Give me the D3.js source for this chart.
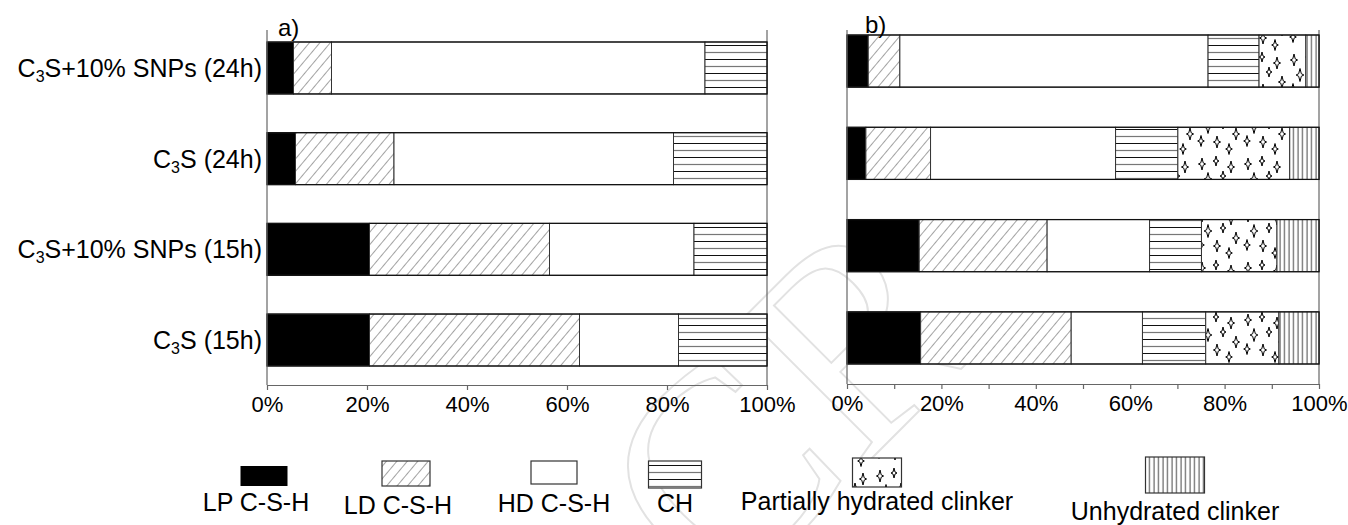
<!DOCTYPE html>
<html>
<head>
<meta charset="utf-8">
<script src="https://cdn.jsdelivr.net/npm/d3@7"></script>
<style>
  body { margin: 0; background: #fff; }
  text { font-family: "Liberation Sans", Arial, sans-serif; }
</style>
</head>
<body>
<svg id="chart" width="1348" height="525"></svg>
<script>
// categories, top to bottom
const categories = ["C3S+10% SNPs (24h)", "C3S (24h)", "C3S+10% SNPs (15h)", "C3S (15h)"];

// panel a) values in %
const aLP = [5.3, 5.7, 20.5, 20.5];
const aLD = [7.6, 19.7, 36.0, 42.0];
const aHD = [74.7, 55.9, 28.9, 19.8];
const aCH = [12.4, 18.7, 14.6, 17.7];

// panel b) values in %
const bLP = [4.5, 4.0, 15.3, 15.6];
const bLD = [6.7, 13.7, 27.1, 31.9];
const bHD = [65.3, 39.2, 21.7, 15.1];
const bCH = [10.8, 13.2, 11.0, 13.4];
const bPHC = [9.9, 23.7, 16.0, 15.5];
const bUC = [2.8, 6.2, 8.9, 8.5];

const xTicksA = [0, 20, 40, 60, 80, 100];
const xTicksB = [0, 10, 20, 30, 40, 50, 60, 70, 80, 90, 100];

const legendNames = ["LP C-S-H", "LD C-S-H", "HD C-S-H", "CH", "Partially hydrated clinker", "Unhydrated clinker"];

const svg = d3.select("#chart");
const defs = svg.append("defs");

// ---- fill patterns ----
defs.append("pattern").attr("id", "p-ld")
    .attr("patternUnits", "userSpaceOnUse")
    .attr("width", 8).attr("height", 8)
    .attr("patternTransform", "rotate(40)")
  .call(p => {
      p.append("rect").attr("width", 8).attr("height", 8).attr("fill", "#fff");
      p.append("line").attr("x1", 0).attr("y1", 0).attr("x2", 0).attr("y2", 8)
        .attr("stroke", "#333").attr("stroke-width", 0.9);
  });

defs.append("pattern").attr("id", "p-ch")
    .attr("patternUnits", "userSpaceOnUse")
    .attr("width", 10).attr("height", 14)
  .call(p => {
      p.append("rect").attr("width", 10).attr("height", 14).attr("fill", "#fff");
      p.append("line").attr("x1", 0).attr("x2", 10).attr("y1", 3.5).attr("y2", 3.5)
        .attr("stroke", "#111").attr("stroke-width", 1);
      p.append("line").attr("x1", 0).attr("x2", 10).attr("y1", 10.5).attr("y2", 10.5)
        .attr("stroke", "#777").attr("stroke-width", 1.2);
  });

defs.append("pattern").attr("id", "p-uc")
    .attr("patternUnits", "userSpaceOnUse")
    .attr("width", 4.5).attr("height", 10)
  .call(p => {
      p.append("rect").attr("width", 4.5).attr("height", 10).attr("fill", "#fff");
      p.append("line").attr("x1", 2).attr("x2", 2).attr("y1", 0).attr("y2", 10)
        .attr("stroke", "#444").attr("stroke-width", 1);
  });

// little four-point sparkles
function star(cx, cy, s) {
    const ry = 5 * s, rx = 3 * s, ri = 1 * s;
    return `M${cx},${cy - ry}L${cx + ri},${cy - ri}L${cx + rx},${cy}L${cx + ri},${cy + ri}` +
           `L${cx},${cy + ry}L${cx - ri},${cy + ri}L${cx - rx},${cy}L${cx - ri},${cy - ri}Z`;
}
const starSpots = [[6, 8, 1.2], [20, 5, 1], [35, 11, 1.2], [12, 23, 1.3], [27, 20, 1],
                   [40, 30, 1.2], [5, 37, 1.1], [21, 38, 1.2], [33, 45, 1.1]];
defs.append("pattern").attr("id", "p-phc")
    .attr("patternUnits", "userSpaceOnUse")
    .attr("width", 46).attr("height", 52)
  .call(p => {
      p.append("rect").attr("width", 46).attr("height", 52).attr("fill", "#fff");
      p.selectAll("path").data(starSpots).join("path")
        .attr("d", d => star(d[0], d[1], d[2]))
        .attr("fill", "#fff").attr("stroke", "#000").attr("stroke-width", 1);
  });

const fills = {
    LP: "#000",
    LD: "url(#p-ld)",
    HD: "#fff",
    CH: "url(#p-ch)",
    PHC: "url(#p-phc)",
    UC: "url(#p-uc)"
};
const keyOrder = ["LP", "LD", "HD", "CH", "PHC", "UC"];

// faint watermark left over from the manuscript page
svg.append("text")
    .attr("transform", "translate(720,610) rotate(-45)")
    .style("font-family", "'Liberation Serif', serif")
    .style("font-size", "290px")
    .style("fill", "none").style("stroke", "#e2e2e2").style("stroke-width", 2)
    .text("CR");

function categoryLabel(sel) {
    // C3S -> C with subscript 3
    sel.each(function (d) {
        const t = d3.select(this);
        const rest = d.slice(3);
        t.append("tspan").text("C");
        t.append("tspan").attr("baseline-shift", "-30%").style("font-size", "16px").text("3");
        t.append("tspan").text("S" + rest);
    });
}

function drawPanel(cfg) {
    const rows = categories.map((c, i) => {
        const r = {cat: c};
        cfg.keys.forEach(k => r[k] = cfg.values[k][i]);
        return r;
    });
    const stack = d3.stack().keys(cfg.keys)(rows);

    const x = d3.scaleLinear().domain([0, 100]).range(cfg.xRange);
    const y = d3.scaleBand().domain(categories)
        .range(cfg.yRange).paddingInner(cfg.pad).paddingOuter(0);

    const g = svg.append("g");

    // right frame line
    g.append("line").attr("x1", x(100)).attr("x2", x(100))
        .attr("y1", cfg.top).attr("y2", cfg.bottom)
        .attr("stroke", "#666").attr("stroke-width", 1.2);

    g.selectAll("g.series").data(stack).join("g")
        .attr("class", "series")
        .attr("fill", d => fills[d.key])
      .selectAll("rect").data(d => d).join("rect")
        .attr("x", d => x(d[0]))
        .attr("width", d => x(d[1]) - x(d[0]))
        .attr("y", d => y(d.data.cat))
        .attr("height", y.bandwidth())
        .attr("stroke", "#333").attr("stroke-width", 1);

    // bar top / bottom edges
    g.selectAll("rect.edge").data(categories).join("rect")
        .attr("class", "edge")
        .attr("x", x(0)).attr("width", x(100) - x(0))
        .attr("y", d => y(d)).attr("height", y.bandwidth())
        .attr("fill", "none").attr("stroke", "#111").attr("stroke-width", 1.2);

    // left axis line
    g.append("line").attr("x1", x(0)).attr("x2", x(0))
        .attr("y1", cfg.top).attr("y2", cfg.bottom)
        .attr("stroke", "#666").attr("stroke-width", 1.2);

    const xAxis = d3.axisBottom(x)
        .tickValues(cfg.ticks)
        .tickSize(5).tickSizeOuter(0).tickPadding(6)
        .tickFormat(d => d % 20 === 0 ? d + "%" : "");
    const ax = g.append("g")
        .attr("transform", "translate(0," + cfg.bottom + ")")
        .call(xAxis);
    ax.select(".domain").attr("stroke", "#666").attr("stroke-width", 1.2);
    ax.selectAll(".tick line").attr("stroke", "#666").attr("stroke-width", 1.2);
    ax.selectAll(".tick text")
        .style("font-family", "'Liberation Sans', Arial, sans-serif")
        .style("font-size", "22px").attr("fill", "#000");

    g.append("text")
        .attr("x", x(0) + cfg.tagDx).attr("y", cfg.tagY)
        .style("font-size", "24px").style("fill", "#000")
        .text(cfg.tag);

    if (cfg.showLabels) {
        g.selectAll("text.cat").data(categories).join("text")
            .attr("class", "cat")
            .attr("x", x(0) - 5)
            .attr("y", d => y(d) + y.bandwidth() / 2 + 9)
            .attr("text-anchor", "end")
            .style("font-size", "25px").style("fill", "#000")
            .call(categoryLabel);
    }
}

drawPanel({
    keys: ["LP", "LD", "HD", "CH"],
    values: {LP: aLP, LD: aLD, HD: aHD, CH: aCH},
    xRange: [267, 767], yRange: [42, 366], pad: 0.427,
    top: 30, bottom: 385, ticks: xTicksA,
    tag: "a)", tagDx: 11, tagY: 36, showLabels: true
});

drawPanel({
    keys: ["LP", "LD", "HD", "CH", "PHC", "UC"],
    values: {LP: bLP, LD: bLD, HD: bHD, CH: bCH, PHC: bPHC, UC: bUC},
    xRange: [847, 1319], yRange: [35, 364], pad: 0.435,
    top: 30, bottom: 384, ticks: xTicksB,
    tag: "b)", tagDx: 18, tagY: 33, showLabels: false
});

// ---- legend ----
const legendX = [264, 406, 554, 675, 877, 1175];
const legendBox = [[47, 20, 466], [48, 25, 461], [46, 23, 461], [53, 27, 461], [49, 29, 458], [59, 36, 457]];
const legendTextY = [511, 514, 512, 512, 510, 520];

const lg = svg.append("g").selectAll("g").data(keyOrder).join("g");
lg.append("rect")
    .attr("x", (d, i) => legendX[i] - legendBox[i][0] / 2)
    .attr("y", (d, i) => legendBox[i][2])
    .attr("width", (d, i) => legendBox[i][0])
    .attr("height", (d, i) => legendBox[i][1])
    .attr("fill", d => fills[d])
    .attr("stroke", (d, i) => i === 0 ? "none" : "#333").attr("stroke-width", 1.2);
lg.append("text")
    .attr("x", (d, i) => legendX[i] - (i < 2 ? 8 : 0))
    .attr("y", (d, i) => legendTextY[i])
    .attr("text-anchor", "middle")
    .style("font-size", "25px").style("fill", "#000")
    .text((d, i) => legendNames[i]);
</script>
</body>
</html>
